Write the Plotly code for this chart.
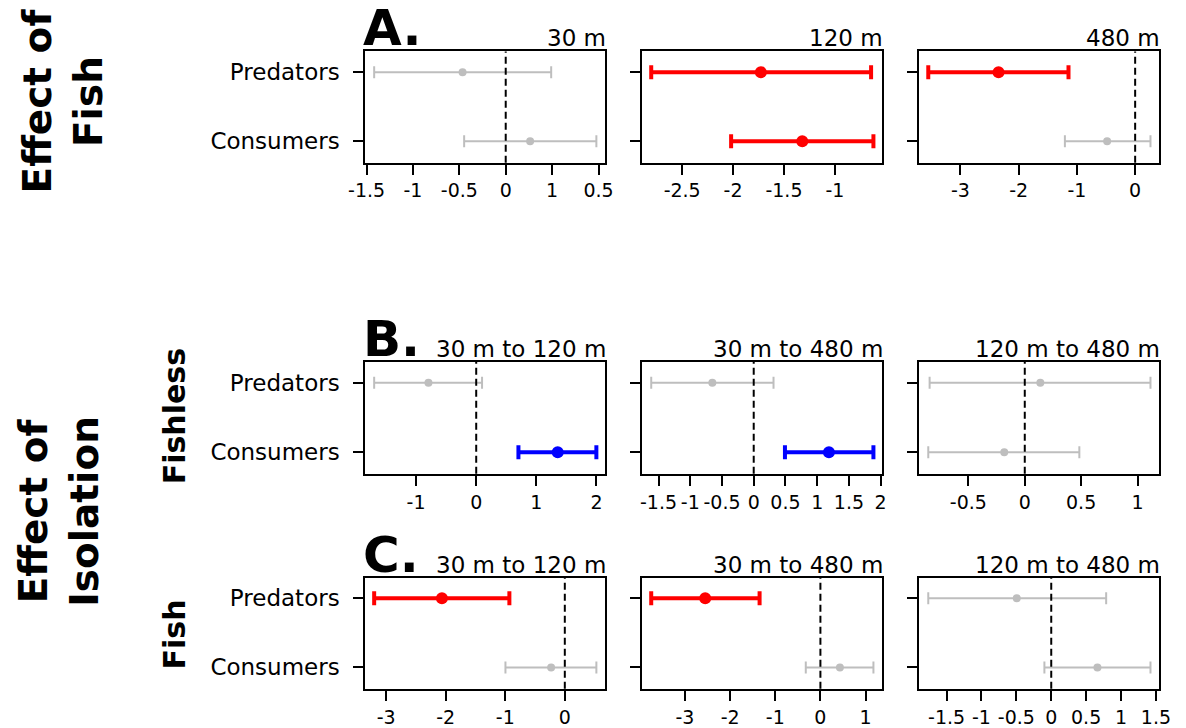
import plotly.graph_objects as go

W, H = 1186, 728

groups = ["Predators", "Consumers"]
panel_titles = ["30 m", "120 m", "480 m",
                "30 m to 120 m", "30 m to 480 m", "120 m to 480 m",
                "30 m to 120 m", "30 m to 480 m", "120 m to 480 m"]
row_letters = ["A.", "B.", "C."]

# Estimates and 95% intervals, one value per panel (A1..A3, B1..B3, C1..C3)
pred_est = [-0.465, -1.727, -2.345, -0.794, -0.652, 0.138, -2.064, -2.551, -0.494]
pred_lo = [-1.418, -2.804, -3.551, -1.697, -1.615, -0.844, -3.202, -3.747, -1.762]
pred_hi = [0.490, -0.644, -1.144, 0.097, 0.312, 1.115, -0.931, -1.347, 0.787]
cons_est = [0.263, -1.320, -0.481, 1.355, 1.185, -0.182, -0.230, 0.432, 0.662]
cons_lo = [-0.448, -2.019, -1.206, 0.702, 0.492, -0.856, -0.997, -0.324, -0.098]
cons_hi = [0.977, -0.621, 0.263, 1.998, 1.886, 0.484, 0.530, 1.174, 1.422]
# significance: "neg" = significant negative, "pos" = significant positive, "ns" = not significant
pred_sig = ["ns", "neg", "neg", "ns", "ns", "ns", "neg", "neg", "ns"]
cons_sig = ["ns", "neg", "ns", "pos", "pos", "ns", "ns", "ns", "ns"]

tick_vals = [
    [-1.5, -1, -0.5, 0, 0.5, 1],
    [-2.5, -2, -1.5, -1],
    [-3, -2, -1, 0],
    [-1, 0, 1, 2],
    [-1.5, -1, -0.5, 0, 0.5, 1, 1.5, 2],
    [-0.5, 0, 0.5, 1],
    [-3, -2, -1, 0],
    [-3, -2, -1, 0, 1],
    [-1.5, -1, -0.5, 0, 0.5, 1, 1.5],
]
tick_text = [
    ["-1.5", "-1", "-0.5", "0", "1", "0.5"],
    ["-2.5", "-2", "-1.5", "-1"],
    ["-3", "-2", "-1", "0"],
    ["-1", "0", "1", "2"],
    ["-1.5", "-1", "-0.5", "0", "0.5", "1", "1.5", "2"],
    ["-0.5", "0", "0.5", "1"],
    ["-3", "-2", "-1", "0"],
    ["-3", "-2", "-1", "0", "1"],
    ["-1.5", "-1", "-0.5", "0", "0.5", "1", "1.5"],
]

FONT = "DejaVu Sans"
col_px = [(357, 603), (641, 887), (925, 1171)]
row_px = [(51.7, 163.3), (363.3, 475.7), (580, 691.7)]

style = {
    "ns": dict(color="#BEBEBE", size=8, thick=2, cap=6),
    "neg": dict(color="#FF0000", size=12, thick=4, cap=7),
    "pos": dict(color="#0000FF", size=12, thick=4, cap=7),
}

fig = go.Figure()
layout = dict(width=W, height=H, margin=dict(l=0, r=0, t=0, b=0),
              paper_bgcolor="white", plot_bgcolor="white", showlegend=False,
              font=dict(family=FONT, color="black"))
shapes = []
annotations = []

for i in range(9):
    r, c = divmod(i, 3)
    k = i + 1
    sfx = "" if k == 1 else str(k)
    xa, ya = f"x{sfx}", f"y{sfx}"
    ests = [pred_est[i], cons_est[i]]
    los = [pred_lo[i], cons_lo[i]]
    his = [pred_hi[i], cons_hi[i]]
    sigs = [pred_sig[i], cons_sig[i]]
    ypos = [1, 0]
    for j in range(2):
        s = style[sigs[j]]
        fig.add_trace(go.Scatter(
            x=[ests[j]], y=[ypos[j]], mode="markers", xaxis=xa, yaxis=ya,
            marker=dict(color=s["color"], size=s["size"], line=dict(width=0)),
            error_x=dict(type="data", symmetric=False,
                         array=[his[j] - ests[j]], arrayminus=[ests[j] - los[j]],
                         color=s["color"], thickness=s["thick"], width=s["cap"]),
            name=groups[j], hoverinfo="x+name"))
    dmin, dmax = min(los), max(his)
    ext = 0.04 * (dmax - dmin)
    xr = [dmin - ext, dmax + ext]
    x0, x1 = col_px[c]
    y0, y1 = row_px[r]
    axis_common = dict(showline=True, mirror=True, linecolor="black", linewidth=2,
                       ticks="outside", ticklen=10, tickwidth=2, tickcolor="black",
                       showgrid=False, zeroline=False)
    layout[f"xaxis{sfx}"] = dict(domain=[x0 / W, x1 / W], anchor=ya, range=xr,
                                 tickmode="array", tickvals=tick_vals[i], ticktext=tick_text[i],
                                 tickfont=dict(size=19, family=FONT), **axis_common)
    layout[f"yaxis{sfx}"] = dict(domain=[1 - y1 / H, 1 - y0 / H], anchor=xa, range=[-0.31, 1.3],
                                 tickmode="array", tickvals=[1, 0], ticktext=groups,
                                 showticklabels=(c == 0), ticklabelstandoff=9,
                                 tickfont=dict(size=23, family=FONT), **axis_common)
    if xr[0] < 0 < xr[1]:
        shapes.append(dict(type="line", xref=xa, yref=f"{ya} domain", x0=0, x1=0, y0=0, y1=1,
                           line=dict(color="black", width=2, dash="7px,4px")))
    annotations.append(dict(text=panel_titles[i], xref=f"{xa} domain", yref=f"{ya} domain",
                            x=1, y=1, xanchor="right", yanchor="bottom", showarrow=False,
                            xshift=3, yshift=-2, font=dict(size=23, family=FONT)))
    if c == 0:
        annotations.append(dict(text=f"<b>{row_letters[r]}</b>", xref=f"{xa} domain",
                                yref=f"{ya} domain", x=0, y=1, xanchor="left", yanchor="bottom",
                                showarrow=False, xshift=-4, yshift=-8,
                                font=dict(size=50, family=FONT)))

side_labels = [
    ("<b>Effect of<br>Fish</b>", 47, 101, 39),
    ("<b>Effect of<br>Isolation</b>", 43, 513, 39),
    ("<b>Fishless</b>", 161, 418, 30),
    ("<b>Fish</b>", 161, 637, 30),
]
for txt, px, py, fs in side_labels:
    annotations.append(dict(text=txt, xref="paper", yref="paper", x=px / W, y=1 - py / H,
                            xanchor="center", yanchor="middle", textangle=-90, showarrow=False,
                            font=dict(size=fs, family=FONT)))

layout["shapes"] = shapes
layout["annotations"] = annotations
fig.update_layout(**layout)
fig.write_html("out.html", config={"displayModeBar": False},
               post_script="document.body.style.margin='0';document.body.style.overflow='hidden';")
